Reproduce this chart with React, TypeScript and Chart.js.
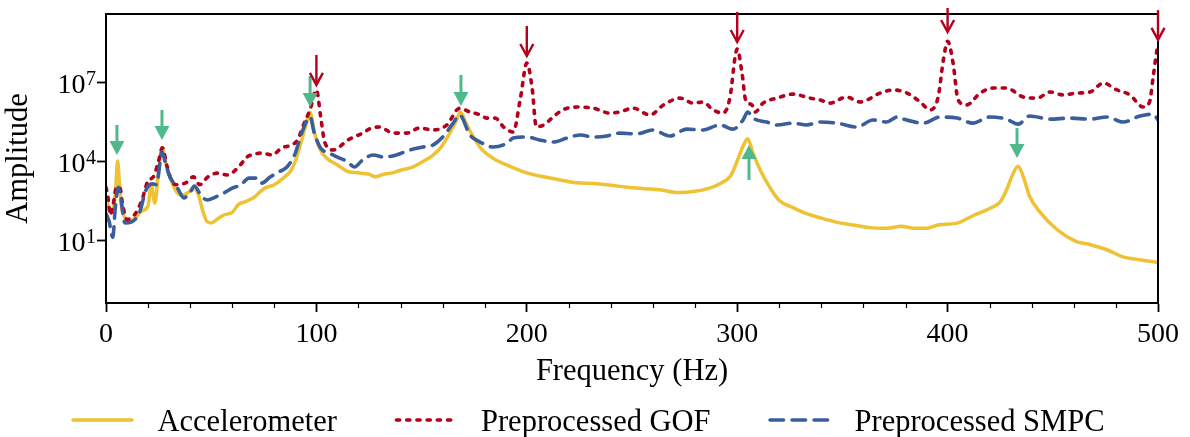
import React, { useEffect, useRef } from 'react';
import { Chart, registerables } from 'chart.js';

Chart.register(...registerables);

const FONT = "'Liberation Serif', 'Times New Roman', serif";

// ---- Data ----
const seriesLabels = ['Accelerometer', 'Preprocessed GOF', 'Preprocessed SMPC'];

const accFreq = [0, 1.5, 3, 4.5, 5.5, 6.5, 7.5, 9, 11, 14, 17, 20, 21.5, 23.2, 25, 26.6, 28.5, 30, 33, 36, 40, 42, 44, 46, 48, 50, 53, 56, 60, 63, 66, 70, 75, 80, 85, 88, 90, 93, 95.5, 97, 99, 102, 105, 110, 115, 120, 125, 128, 132, 136, 140, 145, 150, 155, 159, 163, 166, 168.5, 171, 174, 178, 184, 192, 200, 208, 216, 224, 232, 240, 248, 256, 264, 272, 280, 286, 292, 297, 300, 303, 305, 307.5, 311, 315.5, 320, 326, 333, 340, 347, 355, 363, 371, 378, 384, 390, 396, 404, 412, 420, 425, 428, 431, 433.5, 436, 439, 444, 452, 461, 468, 476, 483, 491, 500];
const accAmp = [398, 158, 126, 631, 10000, 1000, 158, 70.8, 50.1, 70.8, 126, 200, 1260, 251, 3980, 31600, 7940, 3160, 794, 501, 708, 891, 501, 126, 50.1, 44.7, 63.1, 89.1, 112, 224, 282, 398, 891, 1260, 2510, 4470, 10000, 63100, 316000, 708000, 126000, 25100, 12600, 7080, 3980, 3550, 3160, 2510, 3160, 3550, 4470, 5620, 8910, 15800, 31600, 100000, 282000, 708000, 282000, 100000, 31600, 12600, 6310, 3550, 2510, 1910, 1480, 1410, 1200, 1000, 891, 794, 631, 708, 891, 1410, 2820, 10000, 39800, 70800, 20000, 4470, 1000, 316, 178, 100, 67.6, 47.9, 37.2, 29.5, 28.2, 33.1, 28.2, 28.2, 38.0, 42.7, 83.2, 158, 282, 794, 3160, 6310, 2510, 447, 112, 25.1, 8.91, 6.61, 4.17, 2.34, 1.78, 1.41];

const gofFreq = [0, 1, 2, 3.5, 5, 6.5, 8, 10, 13.5, 17, 20, 22.5, 25, 26.8, 29, 31.5, 34, 38.5, 41.5, 44.5, 48.5, 53, 57.5, 63, 67, 70, 74, 79, 83.5, 88, 91, 94, 97, 100, 102, 104, 108, 115, 122, 126, 130, 136.5, 143, 149, 155.5, 162, 168, 173, 178, 181, 185, 189, 193.5, 197, 200, 202.5, 204.5, 208, 212.5, 217, 224, 231.5, 239.5, 244, 250.5, 258.5, 265, 272.8, 279, 283.8, 288.5, 293.3, 296.6, 299, 300, 302.3, 304, 307, 308.5, 312.3, 319, 326.5, 334.6, 339.4, 344, 352, 358.4, 368, 374, 380.7, 387, 391.7, 395.5, 398, 400, 402.6, 405, 409, 415.5, 421.6, 428, 436, 442.5, 448.7, 455, 461.5, 467.7, 474, 480.5, 486.7, 493, 496, 497.7, 499.5, 500];
const gofAmp = [1000, 398, 89.1, 251, 1000, 1000, 200, 60.3, 89.1, 316, 1780, 2510, 10000, 31600, 6310, 1580, 1260, 1580, 2510, 1260, 2510, 3470, 2950, 5890, 14100, 17800, 20000, 17000, 31600, 39800, 63100, 251000, 891000, 5010000, 501000, 50100, 26300, 63100, 115000, 178000, 195000, 115000, 115000, 178000, 151000, 234000, 1000000, 724000, 562000, 427000, 427000, 195000, 126000, 2510000, 52500000, 6310000, 200000, 234000, 468000, 871000, 1120000, 1020000, 661000, 724000, 1020000, 562000, 1350000, 2450000, 1580000, 1740000, 871000, 661000, 2690000, 89100000, 178000000, 21900000, 2090000, 1350000, 724000, 1580000, 2450000, 3470000, 2450000, 2090000, 1580000, 2690000, 1740000, 3800000, 5010000, 3800000, 1740000, 871000, 2690000, 69200000, 355000000, 52500000, 2090000, 1350000, 3800000, 5890000, 5890000, 2690000, 2450000, 4170000, 3240000, 3800000, 4170000, 9120000, 5010000, 3240000, 1120000, 1740000, 15500000, 166000000, 251000000];

const smpcFreq = [0, 1.5, 3.2, 4.5, 5.8, 7, 9, 12, 16, 19, 22, 24, 26.6, 28, 30, 34, 37, 40, 42, 45, 48, 52, 56, 60, 64, 68, 72, 74, 78, 82, 86, 90, 93, 97, 99, 102, 106, 110, 115, 118, 122, 127, 132, 138, 144.5, 150.7, 155.5, 160, 165, 168, 173, 177.8, 184, 190.6, 193.5, 200, 206, 212.5, 219, 225.5, 231.5, 238, 244, 252, 260, 268, 276, 283.8, 291.8, 298, 302.8, 305, 307.5, 314, 319, 326.5, 333, 339.4, 347.4, 357, 364.5, 371, 376, 379, 388.4, 396.4, 404.5, 412, 420, 428, 433.5, 439, 448.7, 458, 467.7, 475.8, 483.4, 491.5, 497.7, 500];
const smpcAmp = [100, 50.1, 12.6, 200, 1000, 398, 44.7, 47.9, 115, 794, 1350, 1260, 22400, 10000, 2950, 933, 398, 661, 1120, 513, 331, 427, 603, 933, 1230, 2240, 2240, 1450, 2450, 3800, 5890, 20000, 115000, 468000, 115000, 30900, 20000, 14100, 9120, 5890, 11000, 17000, 14100, 17000, 26300, 33900, 40700, 81300, 275000, 562000, 97700, 52500, 33900, 47900, 74100, 81300, 63100, 52500, 74100, 97700, 81300, 89100, 115000, 107000, 151000, 89100, 162000, 151000, 234000, 162000, 363000, 724000, 427000, 302000, 234000, 275000, 234000, 302000, 275000, 195000, 363000, 302000, 468000, 389000, 275000, 468000, 427000, 275000, 468000, 389000, 251000, 513000, 389000, 427000, 389000, 468000, 302000, 513000, 603000, 363000];

// Annotation arrows (frequency, tip amplitude, tail amplitude)
const greenArrowFreq = [5.2, 26.6, 97, 168.7, 433, 305.6];
const greenArrowTip = [17000, 63100, 1120000, 1230000, 12900, 40700];
const greenArrowTail = [234000, 871000, 17000000, 18600000, 178000, 1910];

const redArrowFreq = [100, 200, 300, 400, 500];
const redArrowTip = [7760000, 97700000, 331000000, 794000000, 398000000];
const redArrowTail = [107000000, 1350000000, 4570000000, 6460000000, 5370000000];

// Axes ticks
const xTicks = [0, 100, 200, 300, 400, 500];
const xMinorTicks = [20, 40, 60, 80, 120, 140, 160, 180, 220, 240, 260, 280, 320, 340, 360, 380, 420, 440, 460, 480];
const yTickValues = [10, 10000, 10000000];
const yTickBase = ['10', '10', '10'];
const yTickExp = ['1', '4', '7'];
const yMin = 0.0405;
const yMax = 3.83e9;

const COLORS = {
  acc: '#EEC232',
  gof: '#B3001D',
  smpc: '#3A5D9B',
  green: '#4FB98B',
};

const decorPlugin = {
  id: 'decor',
  afterDatasetsDraw(chart: any) {
    const { ctx, chartArea } = chart;
    ctx.save();
    ctx.strokeStyle = '#000';
    ctx.lineWidth = 2;
    ctx.strokeRect(chartArea.left, chartArea.top, chartArea.right - chartArea.left, chartArea.bottom - chartArea.top);
    ctx.restore();
  },
  afterDraw(chart: any) {
    const { ctx, chartArea } = chart;
    const xs = chart.scales.x;
    const ys = chart.scales.y;
    ctx.save();
    // minor x ticks
    ctx.strokeStyle = '#000';
    ctx.lineWidth = 1.2;
    xMinorTicks.forEach((v) => {
      const px = Math.round(xs.getPixelForValue(v)) + 0.5;
      ctx.beginPath();
      ctx.moveTo(px, chartArea.bottom);
      ctx.lineTo(px, chartArea.bottom + 5);
      ctx.stroke();
    });
    // y tick labels with superscript
    ctx.fillStyle = '#000';
    ctx.textBaseline = 'alphabetic';
    ctx.textAlign = 'right';
    yTickValues.forEach((v, i) => {
      const py = ys.getPixelForValue(v);
      const right = chartArea.left - 10;
      ctx.font = `20px ${FONT}`;
      const ew = ctx.measureText(yTickExp[i]).width;
      ctx.fillText(yTickExp[i], right, py + 3);
      ctx.font = `28px ${FONT}`;
      ctx.fillText(yTickBase[i], right - ew - 0.5, py + 11);
    });
    // green arrows (filled head)
    greenArrowFreq.forEach((f, i) => {
      const x = xs.getPixelForValue(f);
      const yTip = ys.getPixelForValue(greenArrowTip[i]);
      const yTail = ys.getPixelForValue(greenArrowTail[i]);
      const dir = Math.sign(yTip - yTail);
      const headLen = 14;
      const headW = 7.5;
      ctx.strokeStyle = COLORS.green;
      ctx.fillStyle = COLORS.green;
      ctx.lineWidth = 3;
      ctx.beginPath();
      ctx.moveTo(x, yTail);
      ctx.lineTo(x, yTip - dir * headLen);
      ctx.stroke();
      ctx.beginPath();
      ctx.moveTo(x, yTip);
      ctx.lineTo(x - headW, yTip - dir * headLen);
      ctx.lineTo(x + headW, yTip - dir * headLen);
      ctx.closePath();
      ctx.fill();
    });
    // red arrows (open head)
    redArrowFreq.forEach((f, i) => {
      const x = xs.getPixelForValue(f);
      const yTip = ys.getPixelForValue(redArrowTip[i]);
      const yTail = ys.getPixelForValue(redArrowTail[i]);
      const dir = Math.sign(yTip - yTail);
      ctx.strokeStyle = COLORS.gof;
      ctx.lineWidth = 2.4;
      ctx.lineCap = 'butt';
      ctx.lineJoin = 'miter';
      ctx.beginPath();
      ctx.moveTo(x, yTail);
      ctx.lineTo(x, yTip - dir * 1);
      ctx.stroke();
      ctx.beginPath();
      ctx.moveTo(x - 6.5, yTip - dir * 12);
      ctx.lineTo(x, yTip);
      ctx.lineTo(x + 6.5, yTip - dir * 12);
      ctx.stroke();
    });
    // legend
    ctx.font = `30.5px ${FONT}`;
    const ds = chart.data.datasets;
    const sample = 62;
    const gap = 24;
    const itemGap = 58;
    const widths = ds.map((d: any) => ctx.measureText(d.label).width);
    const total = ds.length * (sample + gap) + widths.reduce((a: number, b: number) => a + b, 0) + (ds.length - 1) * itemGap;
    let lx = 588 - total / 2;
    const yLine = 420;
    const yText = 431;
    ds.forEach((d: any, i: number) => {
      ctx.strokeStyle = d.borderColor;
      ctx.lineWidth = d.borderWidth;
      ctx.setLineDash(d.borderDash || []);
      ctx.lineCap = d.borderCapStyle || 'butt';
      ctx.beginPath();
      ctx.moveTo(lx + 1.5, yLine);
      ctx.lineTo(lx + sample - 1.5, yLine);
      ctx.stroke();
      ctx.setLineDash([]);
      ctx.fillStyle = '#000';
      ctx.textAlign = 'left';
      ctx.textBaseline = 'alphabetic';
      ctx.fillText(d.label, lx + sample + gap, yText);
      lx += sample + gap + widths[i] + itemGap;
    });
    ctx.restore();
  },
};

export default function App() {
  const canvasRef = useRef<HTMLCanvasElement | null>(null);

  useEffect(() => {
    if (!canvasRef.current) return;
    const toPts = (fx: number[], ay: number[]) => fx.map((f, i) => ({ x: f, y: ay[i] }));
    const chart = new Chart(canvasRef.current, {
      type: 'line',
      data: {
        datasets: [
          {
            label: seriesLabels[0],
            data: toPts(accFreq, accAmp),
            borderColor: COLORS.acc,
            backgroundColor: COLORS.acc,
            borderWidth: 3.5,
            pointRadius: 0,
            cubicInterpolationMode: 'monotone',
            borderCapStyle: 'round',
            borderJoinStyle: 'round',
            order: 2,
          },
          {
            label: seriesLabels[1],
            data: toPts(gofFreq, gofAmp),
            borderColor: COLORS.gof,
            backgroundColor: COLORS.gof,
            borderWidth: 3.6,
            borderDash: [3.2, 7],
            pointRadius: 0,
            cubicInterpolationMode: 'monotone',
            borderCapStyle: 'round',
            borderJoinStyle: 'round',
            order: 1,
          },
          {
            label: seriesLabels[2],
            data: toPts(smpcFreq, smpcAmp),
            borderColor: COLORS.smpc,
            backgroundColor: COLORS.smpc,
            borderWidth: 3.6,
            borderDash: [13.5, 8.5],
            pointRadius: 0,
            cubicInterpolationMode: 'monotone',
            borderCapStyle: 'round',
            borderJoinStyle: 'round',
            order: 0,
          },
        ] as any,
      },
      options: {
        animation: false,
        responsive: false,
        devicePixelRatio: 1,
        events: [],
        layout: { padding: { left: 0, right: 32, top: 14, bottom: 0 } },
        plugins: {
          legend: { display: false },
          tooltip: { enabled: false },
          title: { display: false },
        },
        scales: {
          x: {
            type: 'linear',
            min: 0,
            max: 500,
            afterBuildTicks: (s: any) => {
              s.ticks = xTicks.map((v) => ({ value: v }));
            },
            afterFit: (s: any) => {
              s.height = 134;
            },
            ticks: {
              font: { family: FONT, size: 28 },
              color: '#000',
              padding: 6,
              maxRotation: 0,
              autoSkip: false,
              callback: (v: any) => String(v),
            },
            grid: {
              drawOnChartArea: false,
              drawTicks: true,
              tickLength: 9,
              tickWidth: 1.8,
              tickColor: '#000',
            },
            border: { display: true, color: '#000', width: 2 },
            title: {
              display: true,
              text: 'Frequency (Hz)',
              font: { family: FONT, size: 30.5 },
              color: '#000',
              padding: { top: 0, bottom: 46.7 },
            },
          },
          y: {
            type: 'logarithmic',
            min: yMin,
            max: yMax,
            bounds: 'data',
            afterBuildTicks: (s: any) => {
              s.ticks = yTickValues.map((v) => ({ value: v }));
            },
            afterFit: (s: any) => {
              s.width = 106;
            },
            ticks: { display: false },
            grid: {
              drawOnChartArea: false,
              drawTicks: true,
              tickLength: 9,
              tickWidth: 1.8,
              tickColor: '#000',
            },
            border: { display: true, color: '#000', width: 2 },
            title: {
              display: true,
              text: 'Amplitude',
              font: { family: FONT, size: 30.5 },
              color: '#000',
              padding: { top: 1, bottom: 0 },
            },
          },
        },
      } as any,
      plugins: [decorPlugin],
    });
    return () => chart.destroy();
  }, []);

  return (
    <div style={{ position: 'fixed', left: 0, top: 0, width: 1190, height: 437, background: '#fff' }}>
      <canvas ref={canvasRef} width={1190} height={437} style={{ display: 'block', width: 1190, height: 437 }} />
    </div>
  );
}
